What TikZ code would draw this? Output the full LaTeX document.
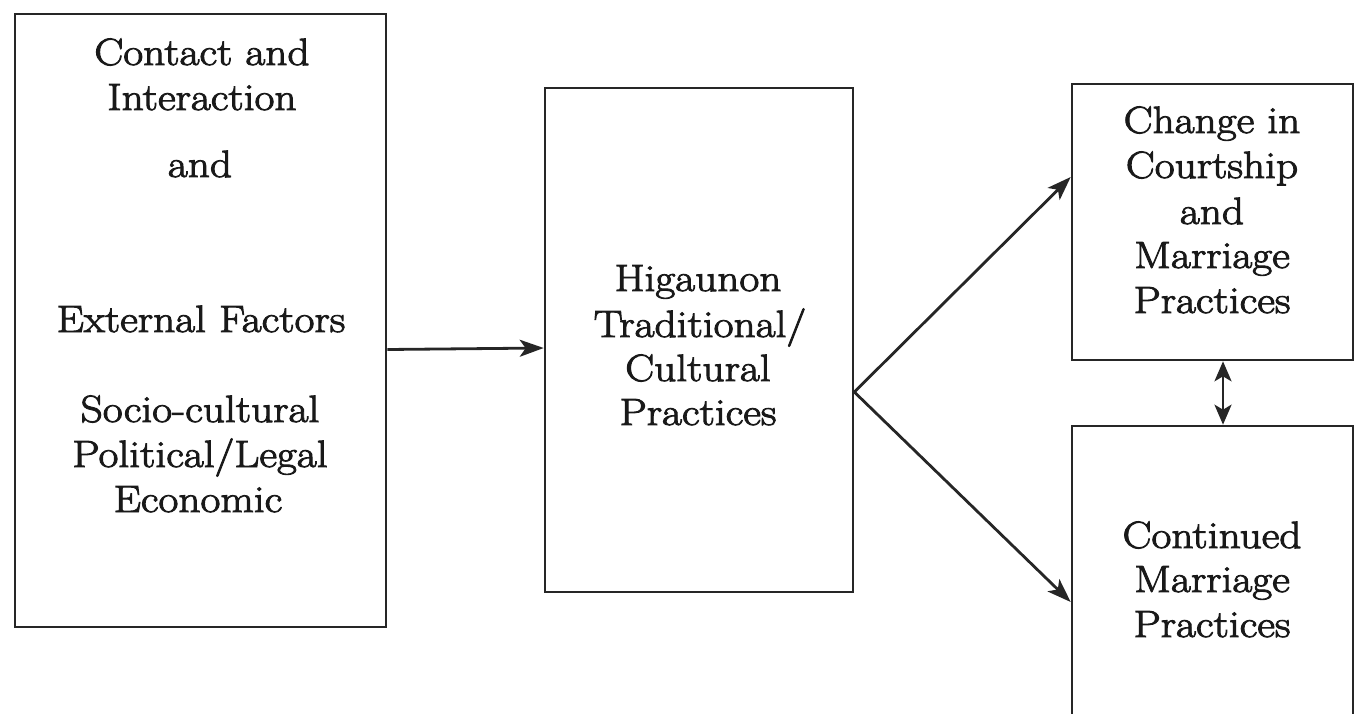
\documentclass[tikz,border=0pt]{standalone}
\usepackage{fontspec}
\setmainfont{Latin Modern Roman}[FakeStretch=1.14, FakeBold=2.5]
\usetikzlibrary{arrows.meta}
\begin{document}
\begin{tikzpicture}[x=1pt,y=-1pt,
  boxstyle/.style={draw=black!85, line width=2.6pt, rectangle, inner sep=0pt},
  txt/.style={anchor=base, inner sep=0pt, text=black!90, font=\fontsize{38}{45}\selectfont},
  conn/.style={line width=2.8pt, draw=black!85, -{Stealth[length=24pt,width=17pt,inset=6pt]}},
  conn2/.style={line width=2.8pt, draw=black!85, {Stealth[length=20pt,width=17pt,inset=5pt]}-{Stealth[length=20pt,width=17pt,inset=5pt]}}]
\useasboundingbox (0,0) rectangle (1357,713);
\clip (0,0) rectangle (1357,713);
% boxes
\node[boxstyle, minimum width=371pt, minimum height=613pt] (lbox) at (200.5,320.5) {};
\node[boxstyle, minimum width=308pt, minimum height=504pt] (mid) at (699,340) {};
\node[boxstyle, minimum width=281pt, minimum height=276pt] (tr) at (1212.5,222) {};
\node[boxstyle, minimum width=281pt, minimum height=334pt] (br) at (1212.5,593) {};
% left box text
\node[txt] (l1) at (202,65) {Contact and};
\node[txt] (l2) at (202,110) {Interaction};
\node[txt] (l3) at (200,177) {and};
\node[txt] (l4) at (201,332) {External Factors};
\node[txt] (l5) at (200,422) {Socio-cultural};
\node[txt] (l6) at (200,467) {Political/Legal};
\node[txt] (l7) at (198,512) {Economic};
% middle text
\node[txt] (m1) at (698,291) {Higaunon};
\node[txt] (m2) at (700,337) {Traditional/};
\node[txt] (m3) at (698,381) {Cultural};
\node[txt] (m4) at (698,425) {Practices};
% top right text
\node[txt] (t1) at (1212,133) {Change in};
\node[txt] (t2) at (1212,178) {Courtship};
\node[txt] (t3) at (1212,224) {and};
\node[txt] (t4) at (1212,268) {Marriage};
\node[txt] (t5) at (1212,313) {Practices};
% bottom right text
\node[txt] (b1) at (1212,548) {Continued};
\node[txt] (b2) at (1212,592) {Marriage};
\node[txt] (b3) at (1212,637) {Practices};
% connectors
\coordinate (fork) at ([yshift=-52pt]mid.east);
\draw[conn] ([yshift=-29pt]lbox.east) -- ([yshift=-8pt]mid.west);
\draw[conn] (fork) -- ([yshift=45pt]tr.west);
\draw[conn] (fork) -- ([yshift=-9pt]br.west);
\draw[conn2] ([xshift=10.5pt]tr.south) -- ([xshift=10.5pt]br.north);
\end{tikzpicture}
\end{document}
